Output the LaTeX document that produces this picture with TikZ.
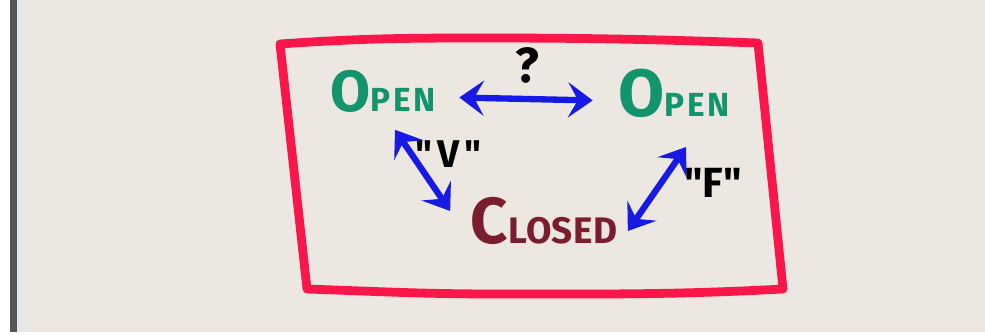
\documentclass[tikz,border=0pt]{standalone}
\usepackage{fontspec}
\setsansfont{Fira Sans}
\usepackage{xcolor}
\usetikzlibrary{arrows.meta,calc}

\definecolor{paper}{RGB}{236,231,224}
\definecolor{edgebar}{RGB}{85,85,88}
\definecolor{edgelight}{RGB}{228,230,238}
\definecolor{markerred}{RGB}{250,22,72}
\definecolor{markerblue}{RGB}{22,26,228}
\definecolor{opengreen}{RGB}{18,148,108}
\definecolor{closedred}{RGB}{122,30,46}

% big first letter, smaller rest (hand-lettered small caps)
\newcommand{\handword}[5]{{\fontsize{#1}{#1}\selectfont #4}{\fontsize{#2}{#2}\selectfont\addfontfeatures{LetterSpace=#3}#5}}
\newcommand{\quoted}[2]{\textquotedbl\hspace{#1}#2\hspace{#1}\textquotedbl}

\tikzset{
  state/.style={font=\sffamily\bfseries, inner sep=0pt},
  openstate/.style={state, text=opengreen},
  closedstate/.style={state, text=closedred},
  link/.style={line width=1.8pt, markerblue, line join=round,
    {Stealth[length=7pt,width=10pt,inset=2.8pt]}-{Stealth[length=7pt,width=10pt,inset=2.8pt]}},
  tag/.style={font=\sffamily\bfseries, text=black, inner sep=0pt},
  frame/.style={line width=2.5pt, markerred, line join=round}
}

\begin{document}
\begin{tikzpicture}
  \useasboundingbox (0,0) rectangle (9.85,3.34);

  % paper and the scanned edge on the left
  \fill[white] (0,0) rectangle (9.85,3.34);
  \fill[paper] (0.23,0.02) rectangle (9.85,3.34);
  \fill[edgebar] (0.10,0.02) rectangle (0.17,3.34);
  \fill[edgelight] (0.17,0.02) rectangle (0.23,3.34);

  % red frame
  \draw[frame] (2.80,2.90) to[out=4,in=180] (4.80,2.96) to[out=0,in=178] (7.58,2.91)
    -- (7.83,0.45) to[out=183,in=0] (5.00,0.40) to[out=180,in=-2] (3.07,0.45) -- cycle;

  % states
  \node[openstate] (openL) at (3.83,2.43) {\handword{16.5}{9.5}{8}{O}{PEN}};
  \node[openstate] (openR) at (6.74,2.41) {\handword{19}{9.5}{8}{O}{PEN}};
  \node[closedstate] (closed) at (5.44,1.13) {\handword{18.5}{10.5}{1}{C}{LOSED}};

  % transitions
  \draw[link, shorten <=2.3mm, shorten >=2.5mm] ([yshift=-0.6mm]openL.east) -- ([yshift=-0.8mm]openR.west)
    node[tag, midway, yshift=3.4mm, font=\sffamily\bfseries\fontsize{14}{14}\selectfont] (ask) {?};
  \draw[link] ([shift={(0.12,-0.17)}]openL.south) -- ([shift={(-0.20,0.10)}]closed.west)
    node[tag, midway, xshift=2.6mm, yshift=1.6mm, font=\sffamily\bfseries\fontsize{11}{11}\selectfont] (vtag) {\quoted{1.5pt}{V}};
  \draw[link] ([shift={(0.10,-0.10)}]closed.east) -- ([shift={(0.12,-0.29)}]openR.south)
    node[tag, midway, xshift=5.6mm, yshift=0.6mm, font=\sffamily\bfseries\fontsize{12}{12}\selectfont] (ftag) {\quoted{0pt}{F}};
\end{tikzpicture}
\end{document}
